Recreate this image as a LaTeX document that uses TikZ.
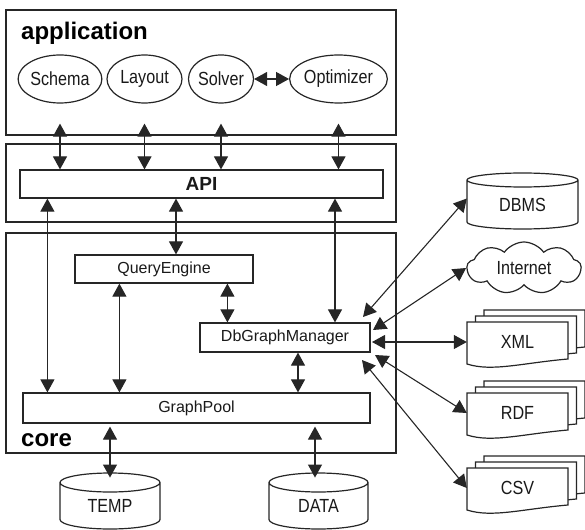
\documentclass[tikz,border=0pt]{standalone}
\usepackage{fontspec}
\setmainfont{Liberation Sans}
\newfontfamily\narrowsans{Liberation Sans}[FakeStretch=0.85]
\usetikzlibrary{arrows.meta,shapes.geometric,shapes.symbols}

% Database drum: name, centre x, top y, width, height, cap half-height, text
\newcommand\drum[7]{%
  \draw[ink, fill=white]
    ({#2-#4/2},{#3+#6}) -- ({#2-#4/2},{#3+#5-#6})
    arc[start angle=180, end angle=360, x radius=#4/2*1pt, y radius=#6*1pt]
    -- ({#2+#4/2},{#3+#6})
    arc[start angle=0, end angle=180, x radius=#4/2*1pt, y radius=#6*1pt] -- cycle
    ({#2-#4/2},{#3+#6})
    arc[start angle=180, end angle=360, x radius=#4/2*1pt, y radius=#6*1pt];
  \node[ntxt, minimum width=#4pt, minimum height={(#5-2*#6)*1pt}, inner sep=0pt]
    (#1) at ({#2},{#3+#5/2+#6/2}) {#7};
}

% Stack of three document pages: name, left x, top y of front page, text
\newcommand\pages[4]{%
  \foreach \dx/\dy in {17/-12, 8.5/-6, 0/0} {
    \draw[ink, fill=white]
      ({#2+\dx},{#3+\dy}) -- ({#2+\dx},{#3+\dy+42})
      .. controls ({#2+\dx+25},{#3+\dy+50}) and ({#2+\dx+55},{#3+\dy+41}) ..
      ({#2+\dx+101},{#3+\dy+37}) -- ({#2+\dx+101},{#3+\dy}) -- cycle;
  }
  \node[ntxt, minimum width=101pt, minimum height=38pt, inner sep=0pt]
    (#1) at ({#2+50.5},{#3+20}) {#4};
}

\begin{document}
\begin{tikzpicture}[x=1pt, y=-1pt,
  ink/.style={draw=black!85, line width=1.2pt},
  txt/.style={font=\fontsize{16}{16}\selectfont, text=black!90},
  ntxt/.style={font=\narrowsans\fontsize{19}{19}\selectfont, text=black!90},
  bar/.style={ink, txt, rectangle, inner sep=0pt, minimum height=28pt},
  comp/.style={ink, ntxt, ellipse, inner sep=0pt, minimum height=48pt},
  title/.style={font=\fontsize{24}{24}\selectfont\bfseries, text=black, inner sep=0pt, anchor=base west},
  biarrow/.style={draw=black!85, line width=1.1pt, {Triangle[length=13pt, width=14pt]}-{Triangle[length=13pt, width=14pt]}}
]
\useasboundingbox (0,0) rectangle (585,529);

% layers
\draw[ink] (6,10) rectangle (396,135);
\draw[ink] (6,144) rectangle (396,222);
\draw[ink] (6,233) rectangle (396,453);
\node[title] (apptitle) at (21,39.5) {application};
\node[title] (coretitle) at (21,446.5) {core};

% application components
\node[comp, minimum width=74pt] (schema) at (60,79) {Schema};
\node[comp, minimum width=75pt] (layout) at (144.5,79) {Layout};
\node[comp, minimum width=65pt] (solver) at (221,79) {Solver};
\node[comp, minimum width=87pt] (optimizer) at (338.5,79) {Optimizer};
\draw[biarrow] (solver) -- (optimizer);

% API and core modules
\node[bar, minimum width=363pt, font=\fontsize{19}{19}\selectfont\bfseries] (api) at (201.5,184) {API};
\node[bar, minimum width=178pt] (qe) at (164,269) {QueryEngine};
\node[bar, minimum width=170pt, minimum height=29pt] (dbgm) at (285,337.5) {DbGraphManager};
\node[bar, minimum width=347pt, minimum height=30pt] (pool) at (196.5,408) {GraphPool};

% storage
\drum{temp}{110}{473}{100}{56}{9.5}{TEMP}
\drum{data}{318.5}{473}{99}{56}{9.5}{DATA}
\drum{dbms}{522.5}{173}{111}{56}{7}{DBMS}
\node[cloud, ink, ntxt, cloud puffs=9, cloud puff arc=110, aspect=2.2,
      minimum width=114pt, minimum height=52pt, inner sep=0pt] (internet) at (524,268) {Internet};
\pages{xml}{467}{322}{XML}
\pages{rdf}{467}{393}{RDF}
\pages{csv}{467}{468}{CSV}

% application <-> API
\foreach \c in {schema, layout, solver, optimizer}
  \draw[biarrow] ([yshift=-20pt]\c.south) -- (\c.south |- api.north);

% API <-> core
\coordinate (a1) at ([xshift=25pt]pool.north west);
\coordinate (a2) at ([xshift=12pt]qe.north);
\coordinate (a3) at ([xshift=50pt]dbgm.north);
\draw[biarrow] (a1 |- api.south) -- (a1);
\draw[biarrow] (a2 |- api.south) -- (a2);
\draw[biarrow] (a3 |- api.south) -- (a3);

% inside core
\coordinate (q1) at ([xshift=97pt]pool.north west);
\coordinate (q2) at ([xshift=28pt]dbgm.north west);
\coordinate (g1) at ([xshift=13pt]dbgm.south);
\draw[biarrow] (q1 |- qe.south) -- (q1);
\draw[biarrow] (q2 |- qe.south) -- (q2);
\draw[biarrow] (g1) -- (g1 |- pool.north);

% GraphPool <-> local stores
\draw[biarrow, shorten <=3pt] (temp.north |- pool.south) -- ([yshift=9.5pt]temp.north);
\draw[biarrow, shorten <=3pt] ([xshift=-3.5pt]data.north |- pool.south) -- ([xshift=-3.5pt,yshift=9.5pt]data.north);

% DbGraphManager <-> external sources
\coordinate (m1) at (363,317);
\coordinate (m2) at (373,330);
\coordinate (m3) at (372,342);
\coordinate (m4) at (375,355);
\coordinate (m5) at (362,360);
\draw[biarrow] (m1) -- ([yshift=6pt]dbms.west);
\draw[biarrow] (m2) -- (internet.west);
\draw[biarrow] (m3) -- (xml.west);
\draw[biarrow] (m4) -- (rdf.west);
\draw[biarrow] (m5) -- (csv.west);
\end{tikzpicture}
\end{document}
